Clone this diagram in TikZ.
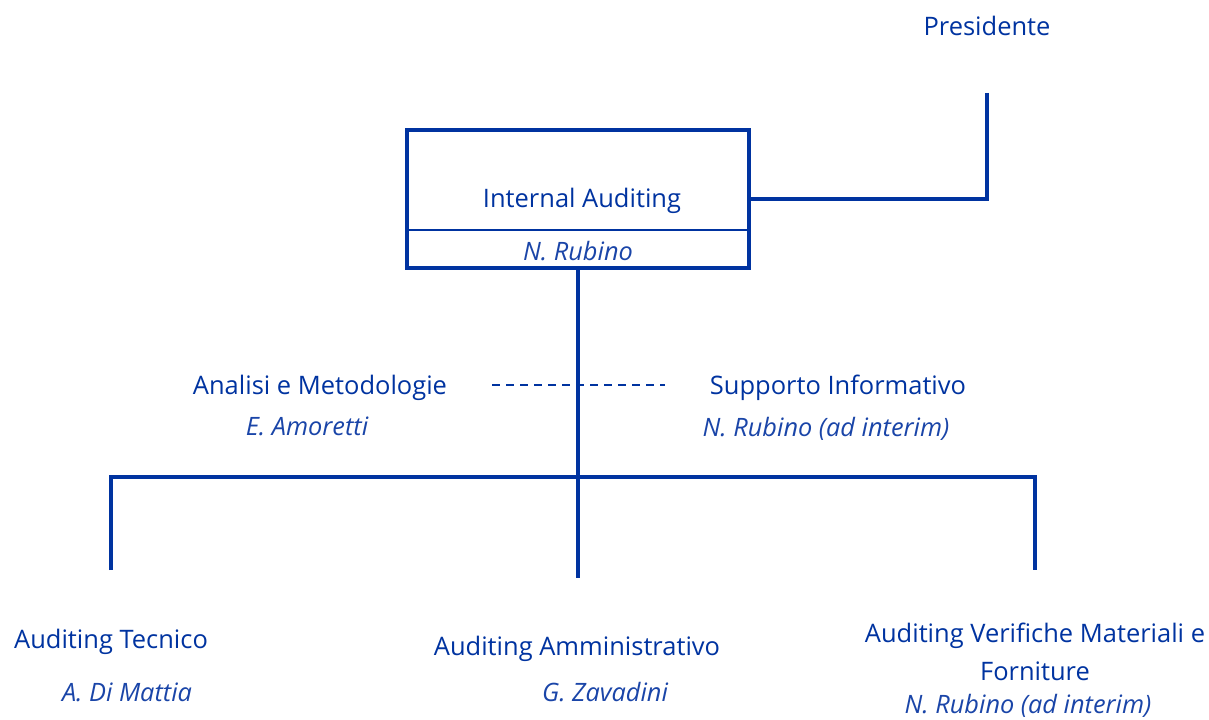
\documentclass[tikz,border=0pt]{standalone}
\usepackage{fontspec}
\setmainfont{Open Sans}
\definecolor{navy}{HTML}{0033A0}
\definecolor{navylt}{HTML}{1A45A8}
\begin{document}
\begin{tikzpicture}[x=0.75pt,y=-0.75pt,
  lbl/.style={text=navy,font=\fontsize{19.1}{23}\selectfont,inner sep=0pt,anchor=center},
  sub/.style={text=navylt,font=\fontsize{19}{23}\selectfont\itshape,inner sep=0pt,anchor=center},
  conn/.style={draw=navy,line width=2.3pt},
  dconn/.style={draw=navy,line width=1.4pt,dash pattern=on 6pt off 4.5pt}]
\useasboundingbox (0,0) rectangle (1209,720);
% top box
\node[draw=navy,line width=2.5pt,minimum width=342*0.75pt,minimum height=138*0.75pt,inner sep=0pt] (box) at (578,199) {};
\coordinate (divL) at (407,230);
\coordinate (divR) at (749,230);
\draw[navy,line width=1.7pt] (divL) -- (divR);
\node[lbl] (ia) at (582,201) {Internal Auditing};
\node[sub] (iarub) at (578,251) {N. Rubino};
% Presidente
\node[lbl] (pres) at (987,26) {Presidente};
\coordinate (presend) at (987,93);
\draw[conn] (presend) |- (box.east);
% staff
\node[lbl] (am) at (320,388) {Analisi e Metodologie};
\node[sub] (amn) at (307,426) {E. Amoretti};
\node[lbl] (si) at (838,388) {Supporto Informativo};
\node[sub] (sin) at (826,429) {N. Rubino (ad interim)};
\coordinate (dl) at (492,385);
\coordinate (dr) at (665,385);
\draw[dconn] (dl) -- (dr);
% trunk
\coordinate (hub) at (578,477);
\coordinate (lb) at (111,570);
\coordinate (rb) at (1035,570);
\coordinate (mb) at (578,578);
\draw[conn] (box.south) -- (mb);
\draw[conn] (lb) |- (hub) -| (rb);
% bottom units
\node[lbl] (at) at (111,642) {Auditing Tecnico};
\node[sub] (atn) at (127,692) {A. Di Mattia};
\node[lbl] (aa) at (577,649) {Auditing Amministrativo};
\node[sub] (aan) at (605,692) {G. Zavadini};
\node[lbl] (av1) at (1035,636) {Auditing Verifiche Materiali e};
\node[lbl] (av2) at (1035,671) {Forniture};
\node[sub] (avn) at (1028,706) {N. Rubino (ad interim)};
\end{tikzpicture}
\end{document}
